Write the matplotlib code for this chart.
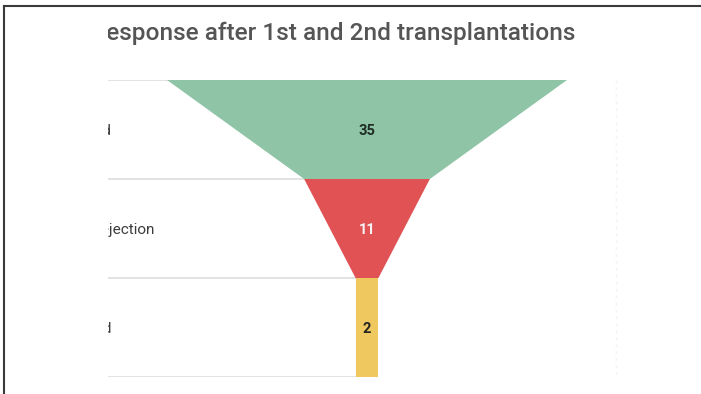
import matplotlib
matplotlib.use("Agg")
import matplotlib.pyplot as plt
from matplotlib.patches import Polygon
from matplotlib.transforms import Bbox, TransformedBbox
from matplotlib.lines import Line2D

plt.rcParams['font.family'] = ['Roboto', 'DejaVu Sans']

# Funnel data
title = "Response after 1st and 2nd transplantations"
stages = ["Engrafted", "Severe rejection", "Regrafted"]
values = [35, 11, 2]
colors = ["#8FC4A6", "#E05254", "#F0C860"]
value_colors = ["#1f2d25", "#f4f4f4", "#222222"]

W, H = 701, 394
fig = plt.figure(figsize=(W / 100, H / 100), dpi=100)
fig.patch.set_facecolor("white")

# frame around the panel
fig.add_artist(Line2D([4 / W, 1], [1 - 6 / H, 1 - 6 / H], color="#3a3a3a", lw=1.5,
                      transform=fig.transFigure))
fig.add_artist(Line2D([4 / W, 4 / W], [0, 1 - 6 / H], color="#3a3a3a", lw=1.5,
                      transform=fig.transFigure))

# plotting area
left_px, right_px, top_px, bottom_px = 108, 616, 80, 377
ax = fig.add_axes([left_px / W, 1 - bottom_px / H,
                   (right_px - left_px) / W, (bottom_px - top_px) / H])
ax.set_axis_off()

vmax = max(values)
n = len(values)
ax.set_xlim(-0.6475 * vmax, 0.6225 * vmax)
ax.set_ylim(n, 0)

# row separators on the label side
for i in range(n + 1):
    ax.plot([-0.6475 * vmax, 0], [i, i], color="#e2e2e2", lw=1.4, zorder=1,
            solid_capstyle="butt")

# funnel segments
for i, v in enumerate(values):
    nxt = values[i + 1] if i + 1 < n else v
    pts = [(-v / 2, i), (v / 2, i), (nxt / 2, i + 1), (-nxt / 2, i + 1)]
    ax.add_patch(Polygon(pts, closed=True, facecolor=colors[i], edgecolor="none",
                         zorder=2))
    ax.text(0, i + 0.52, str(v), ha="center", va="center", fontsize=10.5,
            fontweight="bold", color=value_colors[i], zorder=3)

# stage labels (left part falls outside the visible panel)
for i, s in enumerate(stages):
    ax.text(-0.8035 * vmax, i + 0.52, s, ha="left", va="center", fontsize=11,
            color="#3c3c3c", clip_on=True, zorder=3)

# faint right boundary
ax.plot([0.6225 * vmax, 0.6225 * vmax], [0, n], color="#f3f3f3", lw=1,
        ls=(0, (2, 3)), zorder=0, clip_on=False)

# title, clipped to the panel's left edge
t = fig.text(91 / W, 1 - 33 / H, title, ha="left", va="center", fontsize=17.6,
             color="#555555", fontweight="medium")
t.set_clip_box(TransformedBbox(Bbox([[left_px / W, 0], [1, 1]]), fig.transFigure))
t.set_clip_on(True)

fig.savefig("out.png", dpi=100, facecolor="white")
